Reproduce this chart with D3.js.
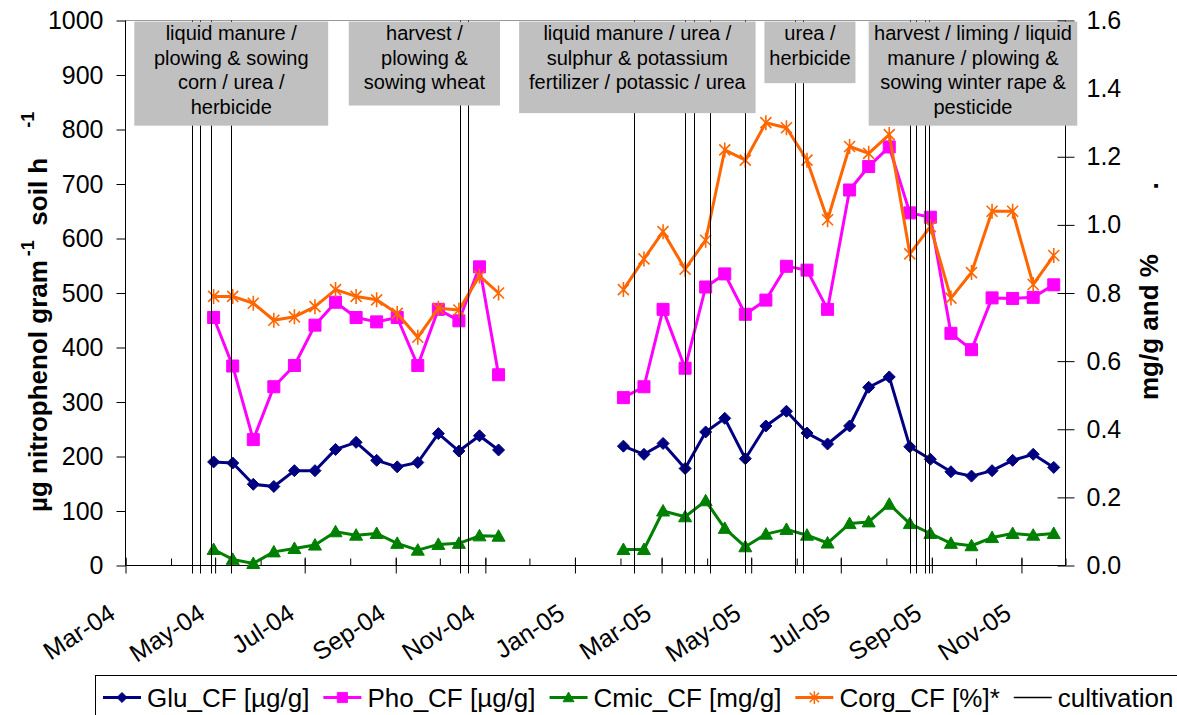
<!DOCTYPE html>
<html><head><meta charset="utf-8">
<script src="https://cdn.jsdelivr.net/npm/d3@7"></script>
<style>
body{margin:0;background:#fff}
svg{display:block}
text{font-family:Arial,"Liberation Sans",sans-serif;fill:#000}
</style>
</head><body>
<svg id="chart" width="1177" height="715"></svg>
<script>
// ---------- data ----------
const dates2004 = ["2004-04-30","2004-05-13","2004-05-27","2004-06-10","2004-06-24","2004-07-08","2004-07-22","2004-08-05","2004-08-19","2004-09-02","2004-09-16","2004-09-30","2004-10-14","2004-10-28","2004-11-10"];
const dates2005 = ["2005-02-03","2005-02-17","2005-03-02","2005-03-17","2005-03-31","2005-04-13","2005-04-27","2005-05-11","2005-05-25","2005-06-08","2005-06-22","2005-07-07","2005-07-20","2005-08-03","2005-08-17","2005-08-31","2005-09-14","2005-09-28","2005-10-12","2005-10-26","2005-11-09","2005-11-23"];

const glu2004 = [190,188,149,145,174,174,213,226,193,181,189,242,210,238,212];
const glu2005 = [219,204,224,178,245,270,196,256,283,243,223,256,327,346,218,195,172,164,174,193,204,180];
const pho2004 = [455,366,231,328,367,441,483,455,447,455,367,470,449,548,350];
const pho2005 = [308,328,470,362,511,535,461,487,549,542,470,689,732,768,647,639,426,396,491,490,492,515];
const cmic2004 = [0.047,0.018,0.006,0.040,0.050,0.060,0.099,0.089,0.094,0.065,0.045,0.062,0.065,0.087,0.086];
const cmic2005 = [0.047,0.047,0.160,0.143,0.190,0.109,0.055,0.092,0.106,0.089,0.066,0.123,0.128,0.180,0.123,0.094,0.065,0.058,0.082,0.094,0.089,0.094];
const corg2004 = [0.79,0.79,0.77,0.72,0.73,0.76,0.81,0.79,0.78,0.74,0.67,0.755,0.75,0.85,0.80];
const corg2005 = [0.81,0.90,0.98,0.87,0.955,1.22,1.19,1.30,1.285,1.19,1.015,1.23,1.21,1.265,0.915,0.995,0.785,0.86,1.04,1.04,0.825,0.91];

const cultivationDates = ["2004-04-15","2004-04-21","2004-04-28","2004-05-12","2004-10-15","2004-10-20","2005-02-10","2005-03-17","2005-03-23","2005-04-03","2005-04-27","2005-05-31","2005-06-05","2005-08-17","2005-08-21","2005-08-27","2005-08-30"];

const leftTicks = [0,100,200,300,400,500,600,700,800,900,1000];
const rightTicks = [0,0.2,0.4,0.6,0.8,1.0,1.2,1.4,1.6];

const annotationText = [
  ["liquid manure /","plowing & sowing","corn / urea /","herbicide"],
  ["harvest /","plowing &","sowing wheat"],
  ["liquid manure / urea /","sulphur & potassium","fertilizer / potassic / urea"],
  ["urea /","herbicide"],
  ["harvest / liming / liquid","manure / plowing &","sowing winter rape &","pesticide"]
];
const annotationFrom = ["2004-03-07","2004-07-31","2004-11-24","2005-05-10","2005-07-20"];
const annotationTo   = ["2004-07-17","2004-11-11","2005-05-04","2005-07-11","2005-12-09"];
const annotationFloor = [807,844,830,885,807];

const legendNames = ["Glu_CF [µg/g]","Pho_CF [µg/g]","Cmic_CF [mg/g]","Corg_CF [%]*","cultivation"];

// ---------- setup ----------
const svg = d3.select("#chart");
const parse = d3.utcParse("%Y-%m-%d");
const L = 125.5, R = 1065.5, T = 20.5, B = 565.5;
const x = d3.scaleUtc().domain([parse("2004-03-01"), parse("2005-12-01")]).range([L, R]);
const yL = d3.scaleLinear().domain([0,1000]).range([B, T]);
const yR = d3.scaleLinear().domain([0,1.6]).range([B, T]);

const colors = {glu:"#000080", pho:"#FF00FF", cmic:"#008000", corg:"#FF6600"};
const marker = {
  diamond: "M0,-6L6,0L0,6L-6,0Z",
  square: "M-6,-6H6V6H-6Z",
  triangle: "M0,-6.5L6.5,5L-6.5,5Z",
  star: "M-5.5,-5.5L5.5,5.5M-5.5,5.5L5.5,-5.5M0,-7.5L0,7.5"
};

// plot frame
svg.append("line").attr("x1",L).attr("x2",R).attr("y1",T).attr("y2",T).attr("stroke","#9a9a9a");

// axes
const gx = svg.append("g").attr("transform",`translate(0,${B})`);
gx.call(d3.axisBottom(x).ticks(d3.utcMonth.every(1)).tickSize(-7).tickFormat(""))
  .call(g=>g.select(".domain").remove());
gx.selectAll("line").attr("stroke","#000");
const gxM = svg.append("g").attr("transform",`translate(0,${B})`);
gxM.call(d3.axisBottom(x).ticks(d3.utcMonth.every(2)).tickSize(8).tickFormat(d3.utcFormat("%b-%y")))
  .call(g=>g.select(".domain").remove());
gxM.selectAll(".tick line").attr("y1",-8).attr("stroke","#000");
gxM.selectAll(".tick text")
  .attr("font-size",25).attr("font-family","Arial, 'Liberation Sans', sans-serif")
  .attr("text-anchor","end").attr("dy",null).attr("y",null)
  .attr("transform","translate(-9,52) rotate(-33)");
svg.append("line").attr("x1",L).attr("x2",R).attr("y1",B).attr("y2",B).attr("stroke","#000");

const gyL = svg.append("g").attr("transform",`translate(${L},0)`)
  .call(d3.axisLeft(yL).tickValues(leftTicks).tickSize(9).tickPadding(13).tickFormat(d3.format("d")));
gyL.select(".domain").attr("stroke","#000").attr("d",`M0,${T}V${B}`);
gyL.selectAll("text").attr("font-size",25).attr("font-family","Arial, 'Liberation Sans', sans-serif");

const gyR = svg.append("g").attr("transform",`translate(${R},0)`)
  .call(d3.axisRight(yR).tickValues(rightTicks).tickSize(9).tickPadding(12).tickFormat(d3.format(".1f")));
gyR.select(".domain").attr("stroke","#000").attr("d",`M0,${T}V${B}`);
gyR.selectAll(".tick line").attr("x1",-8);
gyR.selectAll("text").attr("font-size",25).attr("font-family","Arial, 'Liberation Sans', sans-serif");

// axis titles
const lt = svg.append("text").attr("transform","translate(47,512) rotate(-90)")
  .attr("font-weight","bold").attr("font-size",26).style("white-space","pre");
lt.append("tspan").text("µg nitrophenol gram");
lt.append("tspan").attr("font-size",18).attr("dy",-13).attr("dx",4).text("-1");
lt.append("tspan").attr("dy",13).text("  soil h");
lt.append("tspan").attr("font-size",18).attr("dy",-13).attr("dx",30).text("-1");

svg.append("text").attr("transform","translate(1158,400) rotate(-90)")
  .attr("font-weight","bold").attr("font-size",26).text("mg/g and %");
svg.append("text").attr("transform","translate(1158,186) rotate(-90)")
  .attr("font-weight","bold").attr("font-size",26).attr("text-anchor","middle").text(".");

// series
function drawSeries(dates, vals, yScale, color, sym, filled){
  const pts = dates.map((d,i)=>({x:x(parse(d)), y:yScale(vals[i])}));
  svg.append("path").datum(pts)
    .attr("d", d3.line().x(p=>p.x).y(p=>p.y))
    .attr("fill","none").attr("stroke",color).attr("stroke-width",3).attr("stroke-linejoin","round");
  svg.append("g").selectAll("path").data(pts).join("path")
    .attr("transform",p=>`translate(${p.x},${p.y})`)
    .attr("d", marker[sym])
    .attr("fill", filled ? color : "none")
    .attr("stroke", color).attr("stroke-width", filled ? 1 : 1.6);
}
drawSeries(dates2004, glu2004, yL, colors.glu, "diamond", true);
drawSeries(dates2005, glu2005, yL, colors.glu, "diamond", true);
drawSeries(dates2004, pho2004, yL, colors.pho, "square", true);
drawSeries(dates2005, pho2005, yL, colors.pho, "square", true);
drawSeries(dates2004, cmic2004, yR, colors.cmic, "triangle", true);
drawSeries(dates2005, cmic2005, yR, colors.cmic, "triangle", true);
drawSeries(dates2004, corg2004, yR, colors.corg, "star", false);
drawSeries(dates2005, corg2005, yR, colors.corg, "star", false);

// cultivation lines
svg.append("g").selectAll("line").data(cultivationDates).join("line")
  .attr("x1",d=>Math.round(x(parse(d)))+0.5).attr("x2",d=>Math.round(x(parse(d)))+0.5)
  .attr("y1",T).attr("y2",B+8).attr("stroke","#000").attr("stroke-width",1);

// annotation boxes
const boxTop = yL(998);
annotationText.forEach((lines,i)=>{
  const x0 = x(parse(annotationFrom[i])), x1 = x(parse(annotationTo[i]));
  const y1 = yL(annotationFloor[i]);
  svg.append("rect").attr("x",x0).attr("y",boxTop).attr("width",x1-x0).attr("height",y1-boxTop)
    .attr("fill","#C0C0C0");
  const t = svg.append("text").attr("font-size",20).attr("text-anchor","middle");
  lines.forEach((s,j)=>{
    t.append("tspan").attr("x",(x0+x1)/2).attr("y",boxTop+18.5+j*24.7).text(s);
  });
});

// legend
const lg = svg.append("g");
lg.append("rect").attr("x",95.5).attr("y",675.5).attr("width",1100).attr("height",80)
  .attr("fill","#fff").attr("stroke","#000");
const legendSpec = [
  {color:colors.glu, sym:"diamond", filled:true, w:3},
  {color:colors.pho, sym:"square", filled:true, w:3},
  {color:colors.cmic, sym:"triangle", filled:true, w:3},
  {color:colors.corg, sym:"star", filled:false, w:3},
  {color:"#000", sym:null, filled:false, w:1.3}
];
let lx = 103;
const ly = 697.5;
legendNames.forEach((name,i)=>{
  const s = legendSpec[i];
  lg.append("line").attr("x1",lx).attr("x2",lx+38).attr("y1",ly).attr("y2",ly)
    .attr("stroke",s.color).attr("stroke-width",s.w);
  if(s.sym){
    lg.append("path").attr("transform",`translate(${lx+19},${ly}) scale(0.85)`).attr("d",marker[s.sym])
      .attr("fill",s.filled?s.color:"none").attr("stroke",s.color).attr("stroke-width",s.filled?1:1.8);
  }
  const t = lg.append("text").attr("x",lx+44).attr("y",ly+9).attr("font-size",26).text(name);
  lx = lx + 44 + t.node().getComputedTextLength() + 14;
});
</script>
</body></html>
